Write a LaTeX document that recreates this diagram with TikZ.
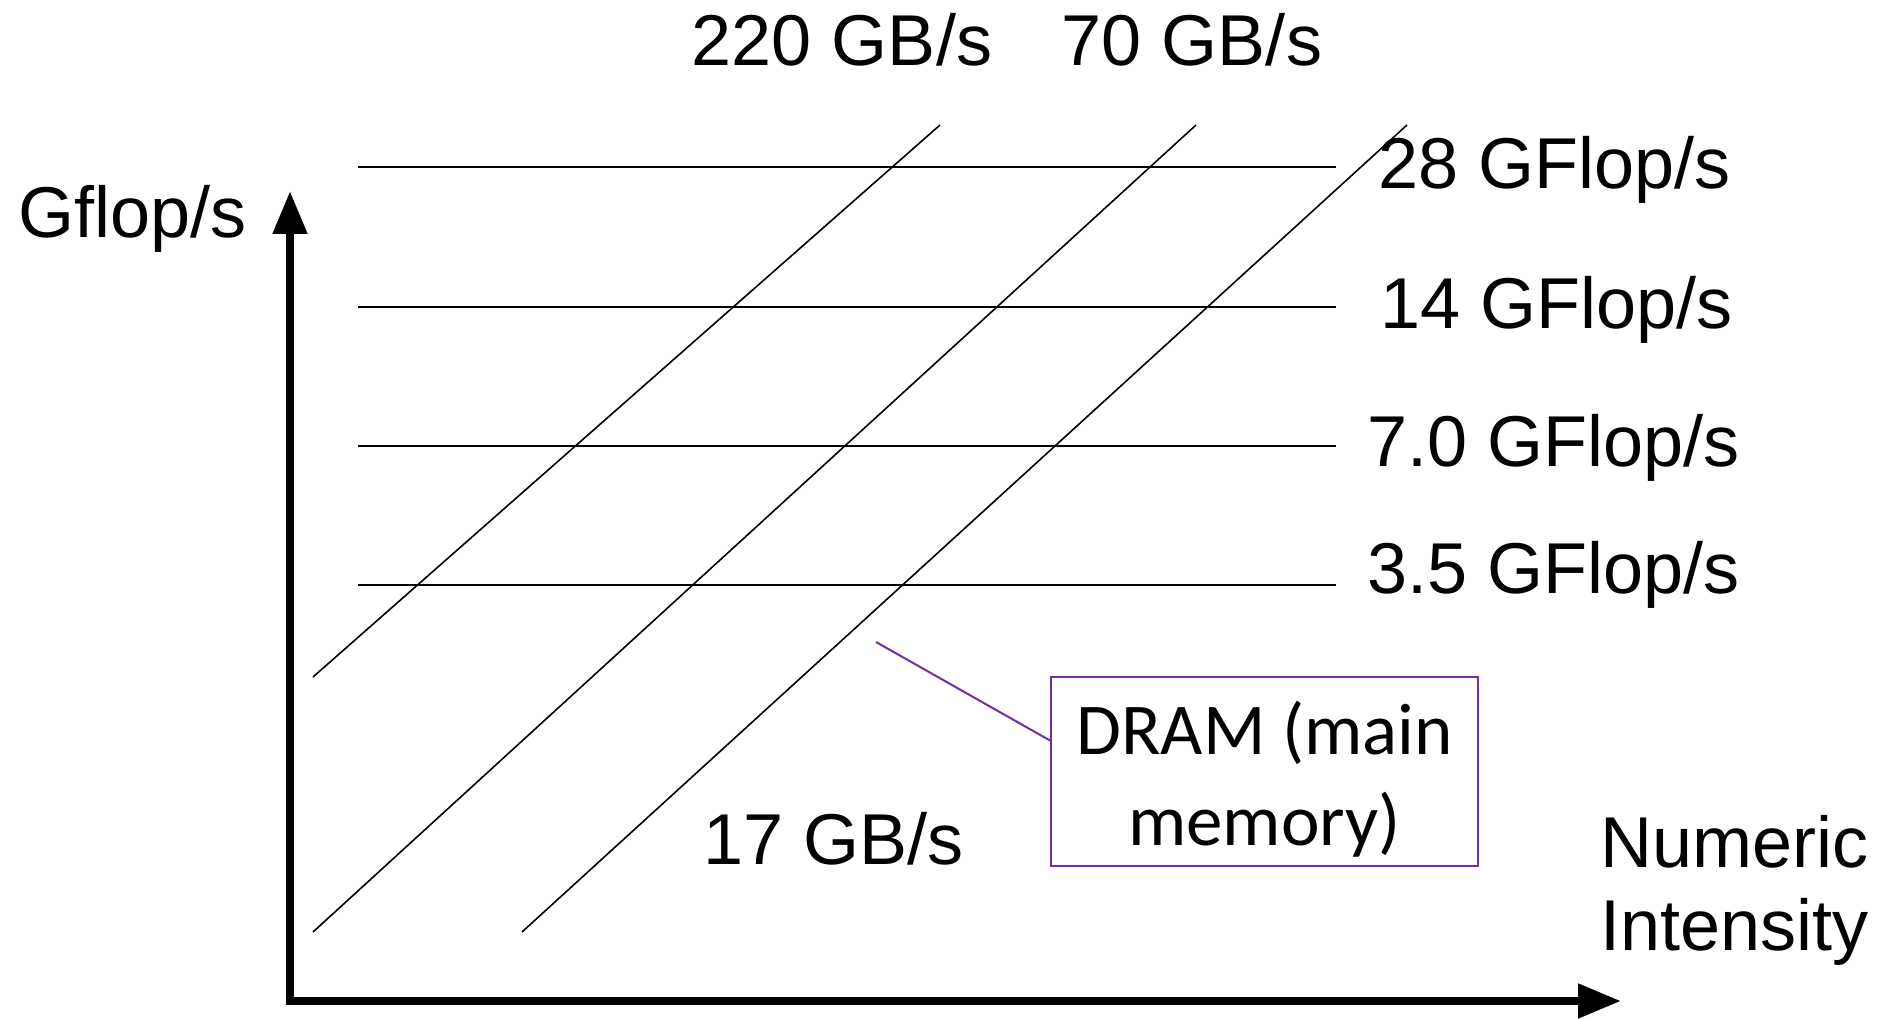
\documentclass[tikz,border=0pt]{standalone}
\usepackage{fontspec}
\setmainfont{Liberation Sans}
\newfontfamily\calibri{Carlito}
\usetikzlibrary{arrows.meta}
\definecolor{callout}{HTML}{7030A0}
\tikzset{
  axis/.style={line width=8pt, -{Triangle[width=33pt,length=43pt]}},
  grid/.style={line width=1.6pt, black},
  lbl/.style={inner sep=0pt, font=\fontsize{72}{80}\selectfont},
}
\begin{document}
\begin{tikzpicture}[x=1pt, y=-1pt]
\useasboundingbox (0,0) rectangle (1885,1019);

% axes
\coordinate (origin) at (290,1001);
\coordinate (ytip) at (290,191);
\coordinate (xtip) at (1621,1001);
\draw[axis] ([xshift=-4pt]origin) -- (xtip);
\draw[axis] ([yshift=4pt]origin) -- (ytip);

% horizontal compute ceilings
\foreach \n/\y in {a/167, b/307, c/446, d/585} {
  \coordinate (h\n1) at (358,\y);
  \coordinate (h\n2) at (1336,\y);
  \draw[grid] (h\n1) -- (h\n2);
}

% bandwidth diagonals
\coordinate (d11) at (313,677);  \coordinate (d12) at (940,125);
\coordinate (d21) at (313,932);  \coordinate (d22) at (1196,125);
\coordinate (d31) at (522,932);  \coordinate (d32) at (1407,125);
\draw[grid] (d11) -- (d12);
\draw[grid] (d21) -- (d22);
\draw[grid] (d31) -- (d32);

% labels
\node[lbl, anchor=base] (bw220) at (842,66) {220 GB/s};
\node[lbl, anchor=base] (bw70) at (1192,66) {70 GB/s};
\node[lbl, anchor=base west] (ylab) at (18,238) {Gflop/s};
\node[lbl, anchor=base west] (f28) at (1378,189) {28 GFlop/s};
\node[lbl, anchor=base west] (f14) at (1380,328) {14 GFlop/s};
\node[lbl, anchor=base west] (f7) at (1367,466) {7.0 GFlop/s};
\node[lbl, anchor=base west] (f35) at (1367,593) {3.5 GFlop/s};
\node[lbl, anchor=base west] (bw17) at (703,864) {17 GB/s};
\node[lbl, anchor=base west] (xlab1) at (1600,867) {Numeric};
\node[lbl, anchor=base west] (xlab2) at (1600,950) {Intensity};

% DRAM callout
\node[draw=callout, line width=2pt, minimum width=427pt, minimum height=189pt,
      inner sep=0pt, align=center, font=\calibri\fontsize{73}{91}\selectfont]
      (dram) at (1264.5,771.5) {\rule{0pt}{68pt}DRAM (main\\memory)};
\coordinate (dramptr) at (876,642);
\draw[callout, line width=2pt] (dramptr) -- ([yshift=31pt]dram.west);
\end{tikzpicture}
\end{document}
